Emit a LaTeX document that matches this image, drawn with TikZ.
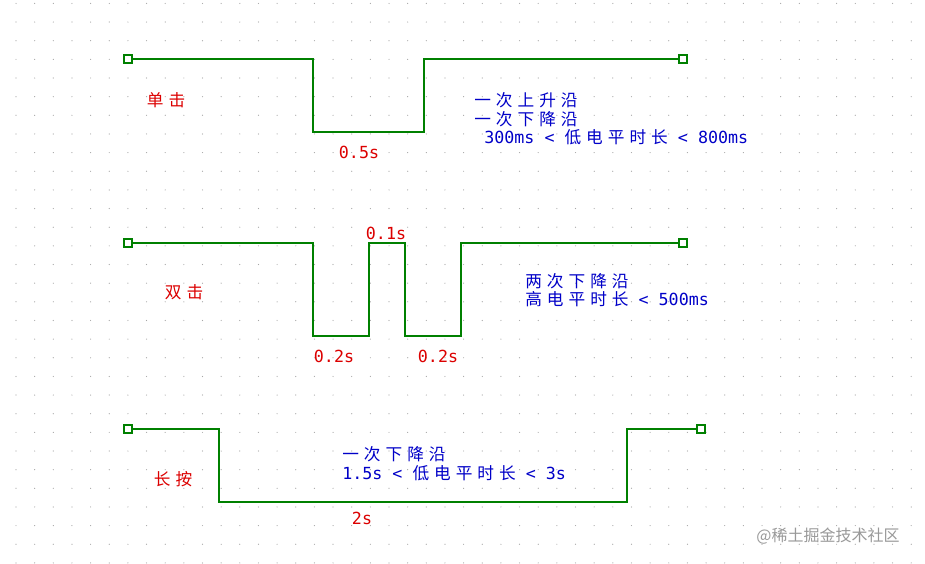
\documentclass[tikz,border=0pt]{standalone}
\usepackage{fontspec}
\setmainfont{DejaVu Sans Mono}
\newfontfamily\cjk[LetterSpace=30]{Noto Sans CJK SC}
\newfontfamily\cjkplain{Noto Sans CJK SC}
\definecolor{wgreen}{RGB}{0,128,0}
\definecolor{tred}{RGB}{220,0,0}
\definecolor{tblue}{RGB}{0,0,200}
\begin{document}
\begin{tikzpicture}[x=0.75pt,y=-0.75pt,
  wire/.style={draw=wgreen,line width=1.5pt},
  pin/.style={draw=wgreen,line width=0.8pt,minimum size=6pt,inner sep=0pt,fill=white},
  red/.style={text=tred,font=\fontsize{12.5}{13.5}\selectfont,inner sep=0pt},
  blue/.style={text=tblue,font=\fontsize{12.5}{14}\selectfont,inner sep=0pt,anchor=west,align=left}]
\fill[white] (0,0) rectangle (925,564);
\useasboundingbox (0,0) rectangle (925,564);
\foreach \i in {0,...,49}{\foreach \j in {0,...,30}{
  \fill[gray!70] ({16+18.65*\i},{3.4+18.65*\j}) circle (0.45pt);}}
% wire 1
\node[pin] (a1) at (128,59) {};
\node[pin] (b1) at (683,59) {};
\draw[wire] (a1.east) -- (313,59) -- (313,132) -- (424,132) -- (424,59) -- (b1.west);
% wire 2
\node[pin] (a2) at (128,243) {};
\node[pin] (b2) at (683,243) {};
\draw[wire] (a2.east) -- (313,243) -- (313,336) -- (369,336) -- (369,243) -- (405,243) -- (405,336) -- (461,336) -- (461,243) -- (b2.west);
% wire 3
\node[pin] (a3) at (128,429) {};
\node[pin] (b3) at (701,429) {};
\draw[wire] (a3.east) -- (219,429) -- (219,502) -- (627,502) -- (627,429) -- (b3.west);
% labels
\node[red] (l1) at (166,100) {\cjk 单击};
\node[red] (t1) at (359,152) {0.5s};
\node[blue] (d1) at (474,119) {{\cjk 一次上升沿}\\{\cjk 一次下降沿}\\ \ 300ms < {\cjk 低电平时长}\ < 800ms};
\node[red] (l2) at (184,292) {\cjk 双击};
\node[red] (t2) at (386,233) {0.1s};
\node[red] (t3) at (334,356) {0.2s};
\node[red] (t4) at (438,356) {0.2s};
\node[blue] (d2) at (525,290) {{\cjk 两次下降沿}\\{\cjk 高电平时长}\ < 500ms};
\node[red] (l3) at (173,479) {\cjk 长按};
\node[blue] (d3) at (342,464) {{\cjk 一次下降沿}\\1.5s < {\cjk 低电平时长}\ < 3s};
\node[red] (t5) at (362,518) {2s};
\node[text=gray!80,font=\cjkplain\fontsize{12}{14}\selectfont,inner sep=0pt] (w) at (828,536) {@稀土掘金技术社区};
\end{tikzpicture}
\end{document}
